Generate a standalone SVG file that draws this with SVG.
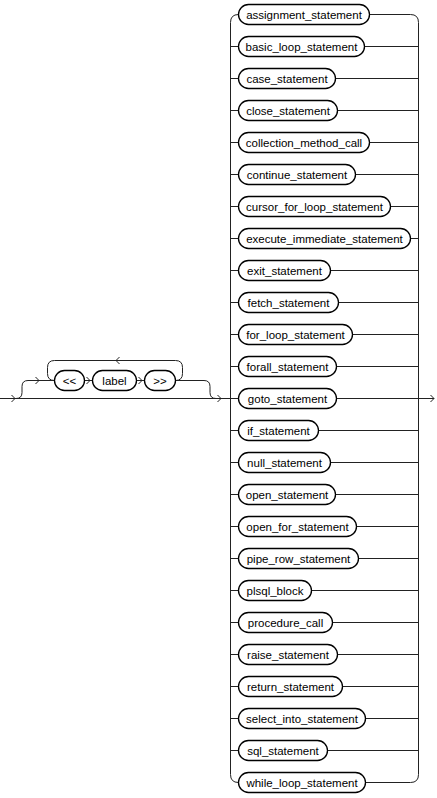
<svg xmlns="http://www.w3.org/2000/svg" xmlns:xlink="http://www.w3.org/1999/xlink" width="437" height="798" viewBox="0 0 437 798">
<style>
.ln{fill:none;stroke:#222;stroke-width:1}
.nd{fill:#fff;stroke:#000;stroke-width:1.3}
.tx{font-family:"Liberation Sans",Arial,sans-serif;font-size:11.5px;fill:#000;text-anchor:middle;dominant-baseline:central}
.ar{fill:none;stroke:#222;stroke-width:1}
</style>
<defs>
<path id="ar" d="M-3.5,-3.5 L0,0 L-3.5,3.5" class="ar"/>
<path id="al" d="M3.5,-3.5 L0,0 L3.5,3.5" class="ar"/>
</defs>
<g id="connectors">
<path class="ln" d="M0,398.5 H238.5"/>
<path class="ln" d="M336.5,398.5 H434"/>
<use xlink:href="#ar" x="15" y="398.5"/>
<use xlink:href="#ar" x="434" y="398.5"/>
<path class="ln" d="M16,398.5 q6,0 6,-6 v-6 q0,-6 6,-6 H54.5"/>
<use xlink:href="#ar" x="39" y="380.5"/>
<path class="ln" d="M84.5,380.5 H92.5"/>
<use xlink:href="#ar" x="90" y="380.5"/>
<path class="ln" d="M136.5,380.5 H144.5"/>
<use xlink:href="#ar" x="142" y="380.5"/>
<path class="ln" d="M175.5,380.5 q7,0 7,-7 v-6 q0,-7 -7,-7 H54.5 q-7,0 -7,7 v6 q0,7 7,7"/>
<use xlink:href="#al" x="116" y="360.5"/>
<path class="ln" d="M175.5,380.5 H204 q6,0 6,6 v6 q0,6 6,6"/>
<use xlink:href="#ar" x="221" y="398.5"/>
<path class="ln" d="M238.5,14.5 q-8,0 -8,8 V774.5 q0,8 8,8"/>
<path class="ln" d="M369.5,14.5 H410.5 q8,0 8,8 V774.5 q0,8 -8,8 H365.5"/>
<path class="ln" d="M230.5,46.5 H238.5 M364.5,46.5 H418.5
M230.5,78.5 H238.5 M335.5,78.5 H418.5
M230.5,110.5 H238.5 M337.5,110.5 H418.5
M230.5,142.5 H238.5 M369.5,142.5 H418.5
M230.5,174.5 H238.5 M355.5,174.5 H418.5
M230.5,206.5 H238.5 M390.5,206.5 H418.5
M230.5,238.5 H238.5 M410.5,238.5 H418.5
M230.5,270.5 H238.5 M330.5,270.5 H418.5
M230.5,302.5 H238.5 M338.5,302.5 H418.5
M230.5,334.5 H238.5 M352.5,334.5 H418.5
M230.5,366.5 H238.5 M336.5,366.5 H418.5
M230.5,430.5 H238.5 M318.5,430.5 H418.5
M230.5,462.5 H238.5 M330.5,462.5 H418.5
M230.5,494.5 H238.5 M335.5,494.5 H418.5
M230.5,526.5 H238.5 M356.5,526.5 H418.5
M230.5,558.5 H238.5 M358.5,558.5 H418.5
M230.5,590.5 H238.5 M311.5,590.5 H418.5
M230.5,622.5 H238.5 M332.5,622.5 H418.5
M230.5,654.5 H238.5 M337.5,654.5 H418.5
M230.5,686.5 H238.5 M342.5,686.5 H418.5
M230.5,718.5 H238.5 M365.5,718.5 H418.5
M230.5,750.5 H238.5 M327.5,750.5 H418.5"/>
</g>
<g id="n_lt"><rect class="nd" x="54.5" y="370.5" width="30" height="20" rx="10"/><text class="tx" x="69.5" y="380.5">&lt;&lt;</text></g>
<g id="n_label"><rect class="nd" x="92.5" y="370.5" width="44" height="20" rx="10"/><text class="tx" x="114.5" y="380.5">label</text></g>
<g id="n_gt"><rect class="nd" x="144.5" y="370.5" width="31" height="20" rx="10"/><text class="tx" x="160" y="380.5">&gt;&gt;</text></g>
<g id="n1"><rect class="nd" x="238.5" y="4.5" width="131" height="20" rx="10"/><text class="tx" x="304" y="14.5">assignment_statement</text></g>
<g id="n2"><rect class="nd" x="238.5" y="36.5" width="126" height="20" rx="10"/><text class="tx" x="301.5" y="46.5">basic_loop_statement</text></g>
<g id="n3"><rect class="nd" x="238.5" y="68.5" width="97" height="20" rx="10"/><text class="tx" x="287" y="78.5">case_statement</text></g>
<g id="n4"><rect class="nd" x="238.5" y="100.5" width="99" height="20" rx="10"/><text class="tx" x="288" y="110.5">close_statement</text></g>
<g id="n5"><rect class="nd" x="238.5" y="132.5" width="131" height="20" rx="10"/><text class="tx" x="304" y="142.5">collection_method_call</text></g>
<g id="n6"><rect class="nd" x="238.5" y="164.5" width="117" height="20" rx="10"/><text class="tx" x="297" y="174.5">continue_statement</text></g>
<g id="n7"><rect class="nd" x="238.5" y="196.5" width="152" height="20" rx="10"/><text class="tx" x="314.5" y="206.5">cursor_for_loop_statement</text></g>
<g id="n8"><rect class="nd" x="238.5" y="228.5" width="172" height="20" rx="10"/><text class="tx" x="324.5" y="238.5">execute_immediate_statement</text></g>
<g id="n9"><rect class="nd" x="238.5" y="260.5" width="92" height="20" rx="10"/><text class="tx" x="284.5" y="270.5">exit_statement</text></g>
<g id="n10"><rect class="nd" x="238.5" y="292.5" width="100" height="20" rx="10"/><text class="tx" x="288.5" y="302.5">fetch_statement</text></g>
<g id="n11"><rect class="nd" x="238.5" y="324.5" width="114" height="20" rx="10"/><text class="tx" x="295.5" y="334.5">for_loop_statement</text></g>
<g id="n12"><rect class="nd" x="238.5" y="356.5" width="98" height="20" rx="10"/><text class="tx" x="287.5" y="366.5">forall_statement</text></g>
<g id="n13"><rect class="nd" x="238.5" y="388.5" width="98" height="20" rx="10"/><text class="tx" x="287.5" y="398.5">goto_statement</text></g>
<g id="n14"><rect class="nd" x="238.5" y="420.5" width="80" height="20" rx="10"/><text class="tx" x="278.5" y="430.5">if_statement</text></g>
<g id="n15"><rect class="nd" x="238.5" y="452.5" width="92" height="20" rx="10"/><text class="tx" x="284.5" y="462.5">null_statement</text></g>
<g id="n16"><rect class="nd" x="238.5" y="484.5" width="97" height="20" rx="10"/><text class="tx" x="287" y="494.5">open_statement</text></g>
<g id="n17"><rect class="nd" x="238.5" y="516.5" width="118" height="20" rx="10"/><text class="tx" x="297.5" y="526.5">open_for_statement</text></g>
<g id="n18"><rect class="nd" x="238.5" y="548.5" width="120" height="20" rx="10"/><text class="tx" x="298.5" y="558.5">pipe_row_statement</text></g>
<g id="n19"><rect class="nd" x="238.5" y="580.5" width="73" height="20" rx="10"/><text class="tx" x="275" y="590.5">plsql_block</text></g>
<g id="n20"><rect class="nd" x="238.5" y="612.5" width="94" height="20" rx="10"/><text class="tx" x="285.5" y="622.5">procedure_call</text></g>
<g id="n21"><rect class="nd" x="238.5" y="644.5" width="99" height="20" rx="10"/><text class="tx" x="288" y="654.5">raise_statement</text></g>
<g id="n22"><rect class="nd" x="238.5" y="676.5" width="104" height="20" rx="10"/><text class="tx" x="290.5" y="686.5">return_statement</text></g>
<g id="n23"><rect class="nd" x="238.5" y="708.5" width="127" height="20" rx="10"/><text class="tx" x="302" y="718.5">select_into_statement</text></g>
<g id="n24"><rect class="nd" x="238.5" y="740.5" width="89" height="20" rx="10"/><text class="tx" x="283" y="750.5">sql_statement</text></g>
<g id="n25"><rect class="nd" x="238.5" y="772.5" width="127" height="20" rx="10"/><text class="tx" x="302" y="782.5">while_loop_statement</text></g>
</svg>
